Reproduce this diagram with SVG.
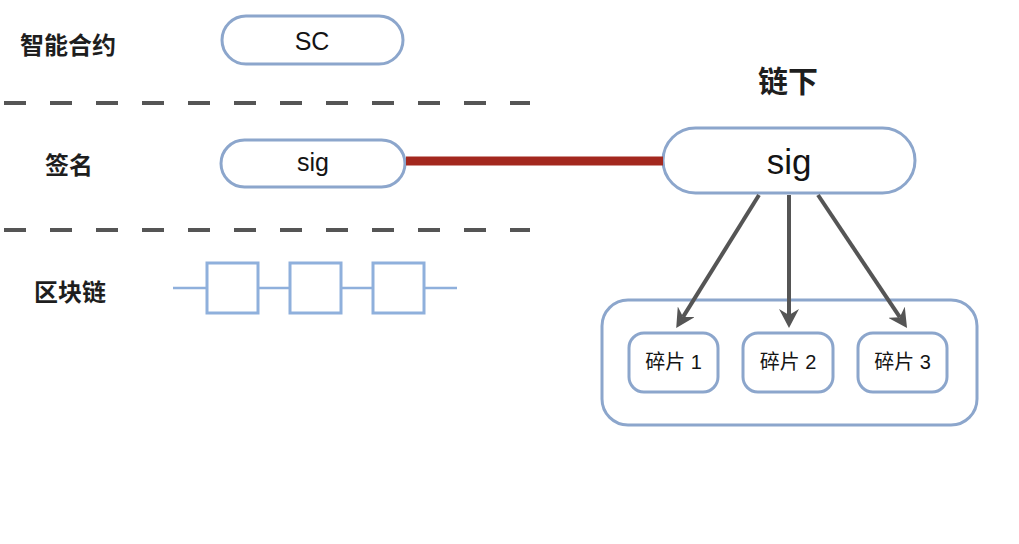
<svg xmlns="http://www.w3.org/2000/svg" width="1019" height="544" viewBox="0 0 1019 544">
<style>
  .lbl { font-family: "Noto Sans CJK SC", "Liberation Sans", sans-serif; font-weight: bold; fill: #1e1e1e; }
  .txt { font-family: "Liberation Sans", "Noto Sans CJK SC", sans-serif; fill: #141414; }
  .pill { fill: #ffffff; stroke: #8ca6cc; stroke-width: 3; }
  .dash { stroke: #555555; stroke-width: 4; stroke-dasharray: 22 24; fill: none; }
  .chain { fill: #ffffff; stroke: #8fb0dc; stroke-width: 3; }
  .arrow { stroke: #555555; stroke-width: 4; fill: none; marker-end: url(#ah); }
</style>
<defs>
  <marker id="ah" viewBox="0 0 19 20" refX="6" refY="10" markerWidth="19" markerHeight="20" markerUnits="userSpaceOnUse" orient="auto">
    <path d="M0,0 L19,10 L0,20 L6,10 Z" fill="#555555"/>
  </marker>
</defs>
<rect width="1019" height="544" fill="#ffffff"/>

<g id="labels">
  <text class="lbl" x="68" y="43" font-size="24" text-anchor="middle" dominant-baseline="central">智能合约</text>
  <text class="lbl" x="69" y="163" font-size="24" text-anchor="middle" dominant-baseline="central">签名</text>
  <text class="lbl" x="70" y="290" font-size="24" text-anchor="middle" dominant-baseline="central">区块链</text>
  <text class="lbl" x="788" y="79" font-size="30" text-anchor="middle" dominant-baseline="central">链下</text>
</g>

<g id="separators">
  <line class="dash" x1="4" y1="103" x2="530" y2="103"/>
  <line class="dash" x1="4" y1="230" x2="530" y2="230"/>
</g>

<g id="node-sc">
  <rect class="pill" x="222" y="16" width="181" height="48" rx="24"/>
  <text class="txt" x="312" y="41" font-size="25" text-anchor="middle" dominant-baseline="central">SC</text>
</g>

<g id="node-sig-left">
  <rect class="pill" x="221" y="140" width="184" height="47" rx="23.5"/>
  <text class="txt" x="313" y="162" font-size="25" text-anchor="middle" dominant-baseline="central">sig</text>
</g>

<g id="node-blockchain">
  <line x1="173" y1="288" x2="457" y2="288" stroke="#8fb0dc" stroke-width="2.5"/>
  <rect class="chain" x="207" y="263" width="51" height="50"/>
  <rect class="chain" x="290" y="263" width="51" height="50"/>
  <rect class="chain" x="373" y="263" width="51" height="50"/>
</g>

<g id="node-sig-offchain">
  <rect class="pill" x="663" y="128" width="252" height="65" rx="32.5"/>
  <text class="txt" x="789" y="161" font-size="35" text-anchor="middle" dominant-baseline="central">sig</text>
</g>

<g id="node-container">
  <rect class="pill" x="602" y="300" width="375" height="125" rx="26"/>
</g>

<g id="node-piece1">
  <rect class="pill" x="629" y="333" width="89" height="59" rx="15"/>
  <text class="txt" x="673.5" y="362" font-size="20" text-anchor="middle" dominant-baseline="central">碎片 1</text>
</g>
<g id="node-piece2">
  <rect class="pill" x="743" y="333" width="90" height="59" rx="15"/>
  <text class="txt" x="788" y="362" font-size="20" text-anchor="middle" dominant-baseline="central">碎片 2</text>
</g>
<g id="node-piece3">
  <rect class="pill" x="858" y="333" width="89" height="59" rx="15"/>
  <text class="txt" x="902.5" y="362" font-size="20" text-anchor="middle" dominant-baseline="central">碎片 3</text>
</g>

<g id="connectors">
  <line x1="406" y1="161" x2="663" y2="161" stroke="#a3281e" stroke-width="9"/>
  <line class="arrow" x1="759" y1="195" x2="683.1" y2="316.9"/>
  <line class="arrow" x1="789" y1="195" x2="789" y2="315"/>
  <line class="arrow" x1="818" y1="195" x2="899.8" y2="317.2"/>
</g>
</svg>
